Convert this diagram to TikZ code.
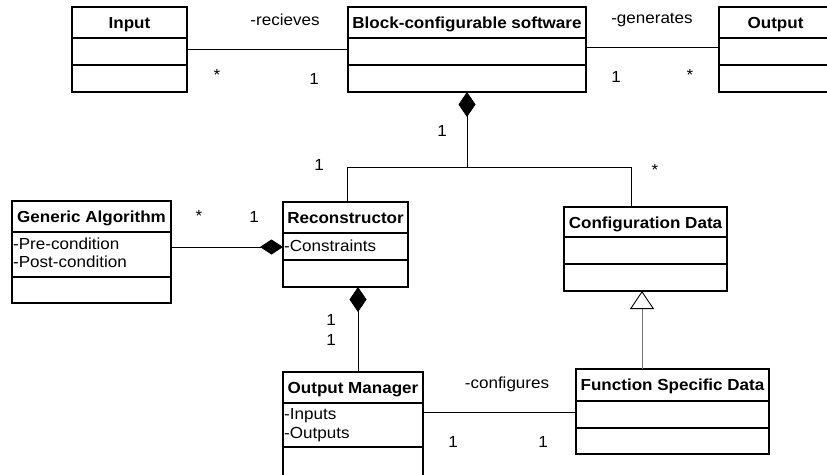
\documentclass[tikz,border=0pt]{standalone}
\usepackage{fontspec}
\newfontfamily\umlfont{Liberation Sans}[FakeStretch=1.065]
\usetikzlibrary{arrows.meta}
\tikzset{
  cls/.style={draw=black, line width=1.2pt, fill=white, inner sep=0pt, outer sep=0pt},
  divider/.style={draw=black, line width=1.2pt},
  hdr/.style={font=\umlfont\fontsize{16}{18}\selectfont\bfseries, inner sep=0pt, anchor=base},
  attr/.style={font=\umlfont\fontsize{16}{18}\selectfont, inner sep=0pt, anchor=base west},
  lbl/.style={font=\umlfont\fontsize{16}{18}\selectfont, inner sep=0pt, anchor=base},
  conn/.style={draw=black, line width=0.8pt},
  compstart/.style={conn, {Diamond[length=25pt,width=17pt]}-},
  compend/.style={conn, -{Diamond[length=23pt,width=15pt]}},
  genline/.style={draw=black!55, line width=0.8pt, -{Triangle[open,length=18pt,width=24pt,color=black,line width=0.9pt]}}
}
\newcommand\umlclass[8]{%
  \node[cls, minimum width={(#4-#2)*1pt}, minimum height={(#5-#3)*1pt}, anchor=north west] (#1) at (#2,#3) {};
  \draw[divider] (#2,#6) -- (#4,#6);
  \draw[divider] (#2,#7) -- (#4,#7);
  \node[hdr] (#1-title) at ({(#2+#4)/2},{#3+21.5}) {#8};
}
\begin{document}
\begin{tikzpicture}[x=1pt,y=-1pt]
\useasboundingbox[fill=white] (0,0) rectangle (827,474);

% classes
\umlclass{inp}{72}{7}{187}{92}{38}{65}{Input}
\umlclass{blk}{348}{7}{586}{92}{38}{65}{Block-configurable software}
\umlclass{out}{719}{7}{832}{92}{38}{65}{Output}
\umlclass{ga}{12}{201}{171}{303}{232}{277}{Generic Algorithm}
\umlclass{rec}{283}{202}{408}{287}{233}{260}{Reconstructor}
\umlclass{cfg}{564}{207}{727}{291}{237}{264}{Configuration Data}
\umlclass{om}{283}{372}{423}{482}{403}{447}{Output Manager}
\umlclass{fsd}{576}{369}{769}{454}{401}{428}{Function Specific Data}

% attributes
\node[attr] (ga-a1) at (13,249) {-Pre-condition};
\node[attr] (ga-a2) at (13,267) {-Post-condition};
\node[attr] (rec-a1) at (284,251) {-Constraints};
\node[attr] (om-a1) at (284,419) {-Inputs};
\node[attr] (om-a2) at (284,438) {-Outputs};

% connectors
\draw[conn] (inp.east) -- (blk.west);
\draw[conn] ([yshift=2.5pt]blk.east) -- ([yshift=2.5pt]out.west);
\coordinate (j1) at (467,167);
\draw[compstart] (blk.south) -- (j1) -| ([xshift=1.5pt]rec.north);
\draw[conn] (j1) -| ([xshift=-14.5pt]cfg.north);
\draw[compend] ([yshift=5pt]ga.east) -- ([yshift=-2.5pt]rec.west);
\draw[compstart] ([xshift=12.5pt]rec.south) -- ([xshift=5pt]om.north);
\draw[genline] ([xshift=-30.5pt]fsd.north) -- ([xshift=-3.5pt]cfg.south);
\draw[conn] ([yshift=15pt]om.east) -- ([yshift=-0.5pt]fsd.west);

% labels
\node[lbl] (l-rec) at (285,25) {-recieves};
\node[lbl] (m1) at (217,80) {*};
\node[lbl] (m2) at (314,84) {1};
\node[lbl] (l-gen) at (652,23) {-generates};
\node[lbl] (m3) at (616,82) {1};
\node[lbl] (m4) at (690,80) {*};
\node[lbl] (m5) at (442,136) {1};
\node[lbl] (m6) at (319,170) {1};
\node[lbl] (m7) at (655,175) {*};
\node[lbl] (m8) at (199,221) {*};
\node[lbl] (m9) at (254,222) {1};
\node[lbl] (m10) at (331,325) {1};
\node[lbl] (m11) at (331,345) {1};
\node[lbl] (l-cfg) at (507,388) {-configures};
\node[lbl] (m12) at (453,447) {1};
\node[lbl] (m13) at (543,447) {1};
\end{tikzpicture}
\end{document}
